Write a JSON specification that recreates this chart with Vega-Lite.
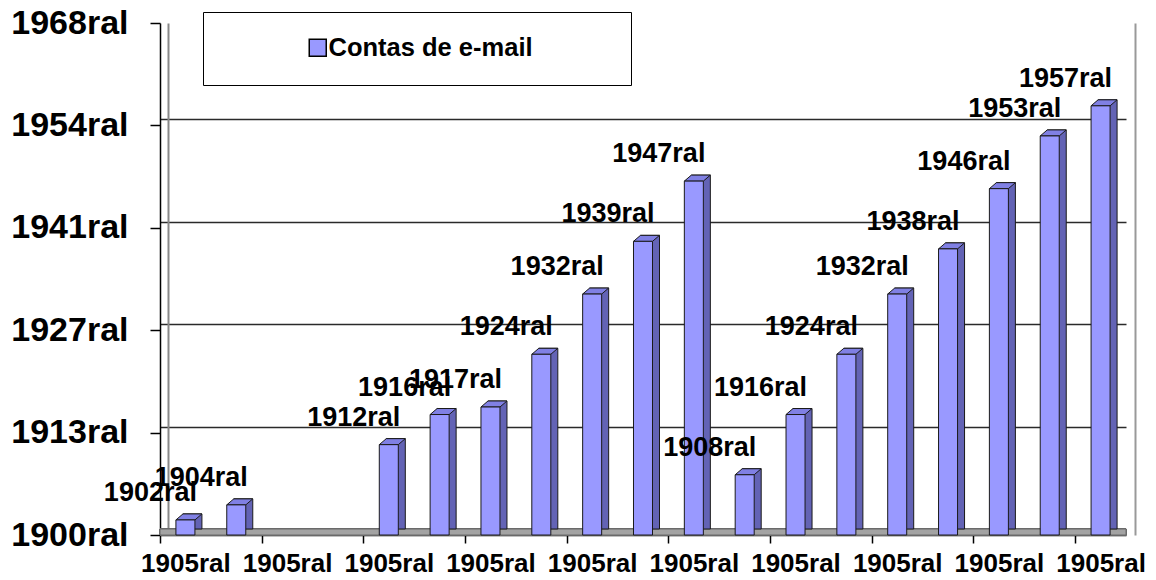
{
  "$schema": "https://vega.github.io/schema/vega-lite/v6.json",
  "width": 966,
  "height": 512,
  "autosize": "none",
  "padding": {"left": 160, "top": 23, "right": 30, "bottom": 45},
  "background": "white",
  "config": {"view": {"stroke": null}, "font": "Liberation Sans"},
  "data": {"values": [
    {"i": 0, "value": 1902, "label": "1902ral"},
    {"i": 1, "value": 1904, "label": "1904ral"},
    {"i": 4, "value": 1912, "label": "1912ral"},
    {"i": 5, "value": 1916, "label": "1916ral"},
    {"i": 6, "value": 1917, "label": "1917ral"},
    {"i": 7, "value": 1924, "label": "1924ral"},
    {"i": 8, "value": 1932, "label": "1932ral"},
    {"i": 9, "value": 1939, "label": "1939ral"},
    {"i": 10, "value": 1947, "label": "1947ral"},
    {"i": 11, "value": 1908, "label": "1908ral"},
    {"i": 12, "value": 1916, "label": "1916ral"},
    {"i": 13, "value": 1924, "label": "1924ral"},
    {"i": 14, "value": 1932, "label": "1932ral"},
    {"i": 15, "value": 1938, "label": "1938ral"},
    {"i": 16, "value": 1946, "label": "1946ral"},
    {"i": 17, "value": 1953, "label": "1953ral"},
    {"i": 18, "value": 1957, "label": "1957ral"}
  ]},
  "layer": [
    {
      "mark": {"type": "rect", "color": "#a3a3a3", "stroke": "#6b6b6b", "strokeWidth": 1},
      "encoding": {
        "y": {"datum": 1900, "type": "quantitative",
          "scale": {"domain": [1899.205, 1967.205], "nice": false, "zero": false},
          "axis": {"orient": "left", "offset": -8, "values": [1900, 1913.6, 1927.2, 1940.8, 1954.4, 1968],
            "labels": false, "ticks": false, "domain": true, "domainColor": "#888888", "domainWidth": 2,
            "grid": true, "gridColor": "#2a2a2a", "gridWidth": 1.6, "title": null}},
        "y2": {"datum": 1899.205}
      }
    },
    {
      "layer": [
        {
          "mark": {"type": "bar", "color": "#6363b5", "stroke": "#1a1a1a", "strokeWidth": 1, "xOffset": 7, "yOffset": -6, "y2Offset": -6},
          "encoding": {
            "x": {"field": "i", "type": "ordinal",
              "scale": {"domain": [0,1,2,3,4,5,6,7,8,9,10,11,12,13,14,15,16,17,18], "paddingInner": 0.626, "paddingOuter": 0.313},
              "axis": {"values": [0,2,4,6,8,10,12,14,16,18], "labelExpr": "'1905ral'", "title": null,
                "bandPosition": 0.5, "tickOffset": -25.4, "labelOffset": 25.4,
                "domainColor": "#000", "domainWidth": 1.5, "tickColor": "#000", "tickWidth": 1.5, "tickSize": 8,
                "labelPadding": 7, "labelFontSize": 26, "labelFontWeight": "bold", "labelColor": "#000",
                "labelAngle": 0, "labelOverlap": false, "grid": false}},
            "y": {"field": "value", "type": "quantitative",
              "scale": {"domain": [1900, 1968], "nice": false, "zero": false},
              "axis": {"orient": "left", "values": [1900, 1913.6, 1927.2, 1940.8, 1954.4, 1968],
                "labelExpr": "datum.value == 1913.6 ? '1913ral' : format(datum.value, '.0f') + 'ral'",
                "title": null, "grid": false, "domainColor": "#000", "domainWidth": 1.5,
                "tickColor": "#000", "tickWidth": 1.5, "tickSize": 10, "labelPadding": 22,
                "labelFontSize": 34, "labelFontWeight": "bold", "labelColor": "#000"}},
            "y2": {"datum": 1900}
          }
        },
        {
          "mark": {"type": "point", "shape": "M -0.731 0 L 0.731 0 L 1.269 -0.462 L -0.192 -0.462 Z", "size": 676,
            "filled": true, "fill": "#8080e4", "stroke": "#1a1a1a", "strokeWidth": 1, "opacity": 1},
          "encoding": {
            "x": {"field": "i", "type": "ordinal"},
            "y": {"field": "value", "type": "quantitative"}
          }
        },
        {
          "mark": {"type": "bar", "stroke": "#1a1a1a", "strokeWidth": 1},
          "encoding": {
            "x": {"field": "i", "type": "ordinal"},
            "y": {"field": "value", "type": "quantitative"},
            "y2": {"datum": 1900},
            "color": {"datum": "Contas de e-mail", "type": "nominal",
              "scale": {"range": ["#9999ff"]},
              "legend": {"orient": "none", "legendX": 43, "legendY": -11,
                "title": "0000000", "titleOrient": "right", "titleColor": "#ffffff", "titleFontSize": 17, "titlePadding": 8,
                "padding": 23, "strokeColor": "#000", "fillColor": "#fff",
                "symbolType": "square", "symbolSize": 289, "symbolStrokeColor": "#000", "symbolStrokeWidth": 1.5,
                "symbolOffset": 79, "labelOffset": -2, "labelLimit": 800,
                "labelFontSize": 25.5, "labelFontWeight": "bold", "labelColor": "#000"}}
          }
        }
      ]
    },
    {
      "mark": {"type": "text", "fontSize": 27, "fontWeight": "bold", "color": "#000", "baseline": "alphabetic", "dy": -19, "dx": -35},
      "encoding": {
        "x": {"field": "i", "type": "ordinal"},
        "y": {"field": "value", "type": "quantitative",
          "scale": {"domain": [1900, 1968], "nice": false, "zero": false},
          "axis": {"orient": "right", "offset": 9, "labels": false, "ticks": false, "grid": false,
            "domain": true, "domainColor": "#999999", "domainWidth": 2, "title": null}},
        "text": {"field": "label"}
      }
    }
  ],
  "resolve": {"scale": {"y": "independent"}}
}
